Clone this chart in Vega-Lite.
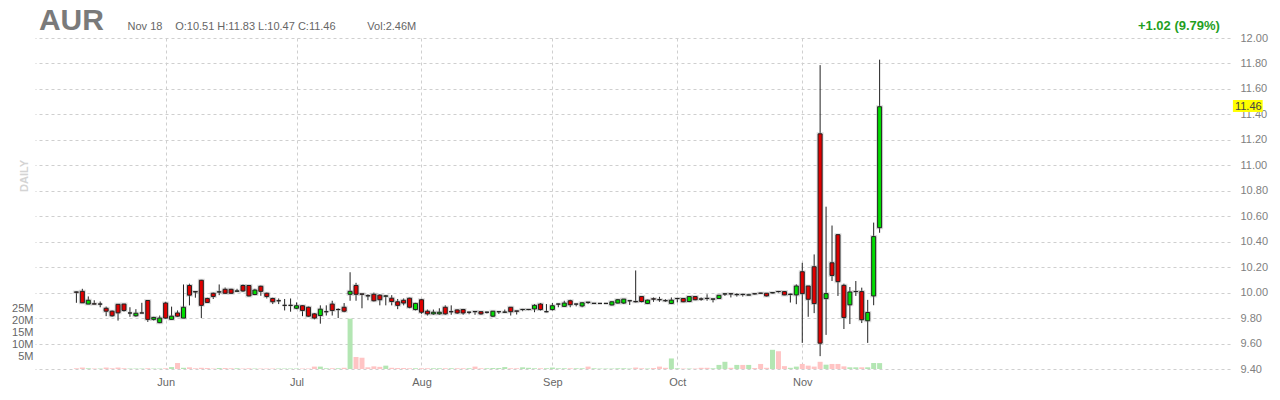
{
  "$schema": "https://vega.github.io/schema/vega-lite/v6.json",
  "autosize": {"type": "none"},
  "padding": {"left": 35, "top": 38, "right": 50, "bottom": 31},
  "width": 1195,
  "height": 331,
  "background": "white",
  "config": {
    "view": {"stroke": null},
    "font": "Liberation Sans",
    "axis": {"labelFont": "Liberation Sans", "labelFontSize": 11, "labelColor": "#808080", "domain": false, "ticks": false, "title": null}
  },
  "data": {"values": [
    {"i":0,"o":10.005,"h":10.008,"l":9.92,"c":10.003,"v":0.3},
    {"i":1,"o":10.01,"h":10.03,"l":9.92,"c":9.92,"v":0.6},
    {"i":2,"o":9.91,"h":9.97,"l":9.91,"c":9.94,"v":0.3},
    {"i":3,"o":9.912,"h":9.94,"l":9.91,"c":9.91,"v":0.2},
    {"i":4,"o":9.91,"h":9.93,"l":9.885,"c":9.91,"v":0.2},
    {"i":5,"o":9.877,"h":9.89,"l":9.815,"c":9.854,"v":0.6},
    {"i":6,"o":9.854,"h":9.86,"l":9.81,"c":9.818,"v":0.3},
    {"i":7,"o":9.908,"h":9.91,"l":9.78,"c":9.841,"v":0.6},
    {"i":8,"o":9.91,"h":9.912,"l":9.85,"c":9.86,"v":0.3},
    {"i":9,"o":9.84,"h":9.885,"l":9.81,"c":9.84,"v":0.2},
    {"i":10,"o":9.818,"h":9.87,"l":9.81,"c":9.838,"v":0.2},
    {"i":11,"o":9.84,"h":9.92,"l":9.84,"c":9.84,"v":0.2},
    {"i":12,"o":9.938,"h":9.94,"l":9.77,"c":9.79,"v":0.3},
    {"i":13,"o":9.79,"h":9.81,"l":9.78,"c":9.805,"v":0.2},
    {"i":14,"o":9.764,"h":9.82,"l":9.76,"c":9.8,"v":0.2},
    {"i":15,"o":9.918,"h":9.928,"l":9.795,"c":9.8,"v":0.3},
    {"i":16,"o":9.79,"h":9.89,"l":9.79,"c":9.815,"v":0.8},
    {"i":17,"o":9.84,"h":9.86,"l":9.81,"c":9.815,"v":2.5},
    {"i":18,"o":9.8,"h":10.064,"l":9.8,"c":9.885,"v":0.5},
    {"i":19,"o":10.056,"h":10.07,"l":9.9,"c":9.98,"v":0.7},
    {"i":20,"o":10.008,"h":10.01,"l":9.96,"c":10.005,"v":0.3},
    {"i":21,"o":10.097,"h":10.1,"l":9.8,"c":9.9,"v":0.5},
    {"i":22,"o":9.954,"h":9.96,"l":9.92,"c":9.923,"v":0.4},
    {"i":23,"o":9.995,"h":10.0,"l":9.95,"c":9.97,"v":0.2},
    {"i":24,"o":10.005,"h":10.064,"l":9.98,"c":10.006,"v":0.4},
    {"i":25,"o":10.026,"h":10.04,"l":9.99,"c":9.995,"v":0.4},
    {"i":26,"o":10.026,"h":10.03,"l":9.99,"c":9.995,"v":0.3},
    {"i":27,"o":10.011,"h":10.03,"l":10.005,"c":10.013,"v":0.3},
    {"i":28,"o":10.056,"h":10.064,"l":10.005,"c":10.013,"v":0.2},
    {"i":29,"o":10.056,"h":10.06,"l":9.97,"c":9.974,"v":0.3},
    {"i":30,"o":9.985,"h":10.03,"l":9.98,"c":10.02,"v":0.2},
    {"i":31,"o":10.05,"h":10.055,"l":9.975,"c":10.01,"v":0.2},
    {"i":32,"o":9.995,"h":10.0,"l":9.954,"c":9.97,"v":0.2},
    {"i":33,"o":9.954,"h":9.96,"l":9.91,"c":9.928,"v":0.2},
    {"i":34,"o":9.936,"h":9.954,"l":9.91,"c":9.936,"v":0.2},
    {"i":35,"o":9.9,"h":9.95,"l":9.86,"c":9.9,"v":0.2},
    {"i":36,"o":9.9,"h":9.954,"l":9.85,"c":9.9,"v":0.2},
    {"i":37,"o":9.877,"h":9.923,"l":9.87,"c":9.897,"v":0.2},
    {"i":38,"o":9.897,"h":9.9,"l":9.815,"c":9.86,"v":0.2},
    {"i":39,"o":9.885,"h":9.89,"l":9.81,"c":9.815,"v":0.2},
    {"i":40,"o":9.833,"h":9.84,"l":9.79,"c":9.8,"v":1.0},
    {"i":41,"o":9.82,"h":9.9,"l":9.756,"c":9.87,"v":1.0},
    {"i":42,"o":9.85,"h":9.9,"l":9.82,"c":9.85,"v":0.3},
    {"i":43,"o":9.91,"h":9.936,"l":9.82,"c":9.86,"v":0.3},
    {"i":44,"o":9.867,"h":9.877,"l":9.8,"c":9.867,"v":0.3},
    {"i":45,"o":9.885,"h":9.918,"l":9.846,"c":9.854,"v":0.5},
    {"i":46,"o":9.987,"h":10.16,"l":9.936,"c":10.01,"v":21},
    {"i":47,"o":10.056,"h":10.077,"l":9.936,"c":9.987,"v":5.0},
    {"i":48,"o":9.99,"h":9.99,"l":9.877,"c":9.987,"v":4.7},
    {"i":49,"o":9.976,"h":9.987,"l":9.94,"c":9.974,"v":0.7},
    {"i":50,"o":9.987,"h":10.0,"l":9.93,"c":9.936,"v":1.1},
    {"i":51,"o":9.98,"h":9.987,"l":9.9,"c":9.944,"v":0.9},
    {"i":52,"o":9.972,"h":9.98,"l":9.9,"c":9.974,"v":1.4},
    {"i":53,"o":9.956,"h":9.98,"l":9.9,"c":9.93,"v":0.5},
    {"i":54,"o":9.928,"h":9.95,"l":9.87,"c":9.9,"v":0.4},
    {"i":55,"o":9.94,"h":9.954,"l":9.9,"c":9.918,"v":0.4},
    {"i":56,"o":9.956,"h":9.96,"l":9.877,"c":9.885,"v":0.3},
    {"i":57,"o":9.867,"h":9.92,"l":9.86,"c":9.915,"v":0.3},
    {"i":58,"o":9.944,"h":9.95,"l":9.833,"c":9.846,"v":0.3},
    {"i":59,"o":9.854,"h":9.867,"l":9.82,"c":9.833,"v":0.3},
    {"i":60,"o":9.833,"h":9.867,"l":9.826,"c":9.846,"v":0.3},
    {"i":61,"o":9.833,"h":9.877,"l":9.826,"c":9.846,"v":0.3},
    {"i":62,"o":9.885,"h":9.9,"l":9.826,"c":9.833,"v":0.3},
    {"i":63,"o":9.85,"h":9.9,"l":9.826,"c":9.85,"v":0.3},
    {"i":64,"o":9.864,"h":9.867,"l":9.833,"c":9.84,"v":0.3},
    {"i":65,"o":9.867,"h":9.872,"l":9.826,"c":9.84,"v":0.3},
    {"i":66,"o":9.846,"h":9.85,"l":9.83,"c":9.846,"v":0.3},
    {"i":67,"o":9.852,"h":9.852,"l":9.826,"c":9.85,"v":1.0},
    {"i":68,"o":9.85,"h":9.852,"l":9.826,"c":9.833,"v":0.3},
    {"i":69,"o":9.846,"h":9.85,"l":9.836,"c":9.846,"v":0.3},
    {"i":70,"o":9.815,"h":9.856,"l":9.808,"c":9.854,"v":0.4},
    {"i":71,"o":9.85,"h":9.852,"l":9.833,"c":9.85,"v":0.4},
    {"i":72,"o":9.846,"h":9.867,"l":9.84,"c":9.847,"v":0.8},
    {"i":73,"o":9.885,"h":9.887,"l":9.82,"c":9.85,"v":0.3},
    {"i":74,"o":9.856,"h":9.856,"l":9.828,"c":9.854,"v":0.3},
    {"i":75,"o":9.867,"h":9.872,"l":9.854,"c":9.868,"v":0.7},
    {"i":76,"o":9.867,"h":9.87,"l":9.862,"c":9.868,"v":0.5},
    {"i":77,"o":9.872,"h":9.91,"l":9.846,"c":9.9,"v":0.3},
    {"i":78,"o":9.91,"h":9.918,"l":9.859,"c":9.867,"v":0.3},
    {"i":79,"o":9.85,"h":9.91,"l":9.846,"c":9.85,"v":0.3},
    {"i":80,"o":9.867,"h":9.918,"l":9.859,"c":9.897,"v":0.6},
    {"i":81,"o":9.91,"h":9.913,"l":9.885,"c":9.91,"v":0.3},
    {"i":82,"o":9.892,"h":9.936,"l":9.89,"c":9.918,"v":0.3},
    {"i":83,"o":9.936,"h":9.944,"l":9.885,"c":9.905,"v":0.3},
    {"i":84,"o":9.91,"h":9.912,"l":9.892,"c":9.91,"v":0.3},
    {"i":85,"o":9.895,"h":9.923,"l":9.885,"c":9.92,"v":0.3},
    {"i":86,"o":9.925,"h":9.926,"l":9.91,"c":9.923,"v":1.0},
    {"i":87,"o":9.915,"h":9.918,"l":9.912,"c":9.916,"v":0.3},
    {"i":88,"o":9.915,"h":9.918,"l":9.912,"c":9.915,"v":0.2},
    {"i":89,"o":9.915,"h":9.918,"l":9.912,"c":9.915,"v":0.2},
    {"i":90,"o":9.903,"h":9.93,"l":9.9,"c":9.928,"v":0.2},
    {"i":91,"o":9.918,"h":9.95,"l":9.915,"c":9.944,"v":0.3},
    {"i":92,"o":9.918,"h":9.95,"l":9.91,"c":9.949,"v":0.3},
    {"i":93,"o":9.936,"h":9.938,"l":9.903,"c":9.936,"v":0.2},
    {"i":94,"o":9.93,"h":10.174,"l":9.923,"c":9.928,"v":0.6},
    {"i":95,"o":9.969,"h":9.97,"l":9.923,"c":9.93,"v":0.3},
    {"i":96,"o":9.915,"h":9.945,"l":9.91,"c":9.941,"v":0.2},
    {"i":97,"o":9.951,"h":9.962,"l":9.928,"c":9.949,"v":0.4},
    {"i":98,"o":9.945,"h":9.967,"l":9.928,"c":9.944,"v":1.0},
    {"i":99,"o":9.937,"h":9.949,"l":9.928,"c":9.936,"v":0.5},
    {"i":100,"o":9.915,"h":9.962,"l":9.91,"c":9.941,"v":4.4},
    {"i":101,"o":9.953,"h":9.956,"l":9.923,"c":9.954,"v":0.3},
    {"i":102,"o":9.954,"h":9.956,"l":9.925,"c":9.928,"v":0.2},
    {"i":103,"o":9.93,"h":9.972,"l":9.925,"c":9.969,"v":0.2},
    {"i":104,"o":9.969,"h":9.972,"l":9.94,"c":9.944,"v":0.2},
    {"i":105,"o":9.95,"h":9.962,"l":9.936,"c":9.949,"v":0.5},
    {"i":106,"o":9.955,"h":9.987,"l":9.936,"c":9.954,"v":0.5},
    {"i":107,"o":9.949,"h":9.951,"l":9.923,"c":9.95,"v":0.3},
    {"i":108,"o":9.954,"h":9.982,"l":9.95,"c":9.979,"v":1.7},
    {"i":109,"o":9.989,"h":9.995,"l":9.974,"c":9.99,"v":3.0},
    {"i":110,"o":9.991,"h":9.992,"l":9.962,"c":9.99,"v":0.5},
    {"i":111,"o":9.984,"h":9.995,"l":9.969,"c":9.985,"v":1.7},
    {"i":112,"o":9.986,"h":9.99,"l":9.969,"c":9.985,"v":1.7},
    {"i":113,"o":9.981,"h":9.985,"l":9.98,"c":9.982,"v":1.7},
    {"i":114,"o":9.991,"h":9.993,"l":9.986,"c":9.99,"v":0.4},
    {"i":115,"o":9.996,"h":9.998,"l":9.993,"c":9.995,"v":2.1},
    {"i":116,"o":9.995,"h":9.997,"l":9.97,"c":9.974,"v":0.5},
    {"i":117,"o":9.998,"h":10.003,"l":9.995,"c":10.0,"v":8.0},
    {"i":118,"o":10.009,"h":10.013,"l":10.0,"c":10.008,"v":7.4},
    {"i":119,"o":10.008,"h":10.01,"l":9.98,"c":9.982,"v":1.2},
    {"i":120,"o":9.986,"h":9.992,"l":9.922,"c":9.987,"v":0.5},
    {"i":121,"o":9.982,"h":10.065,"l":9.909,"c":10.052,"v":1.0},
    {"i":122,"o":10.164,"h":10.234,"l":9.605,"c":9.992,"v":2.1},
    {"i":123,"o":10.052,"h":10.052,"l":9.81,"c":9.948,"v":1.4},
    {"i":124,"o":10.203,"h":10.3,"l":9.839,"c":9.914,"v":1.0},
    {"i":125,"o":11.247,"h":11.787,"l":9.501,"c":9.603,"v":3.0},
    {"i":126,"o":9.953,"h":10.675,"l":9.668,"c":9.992,"v":1.8},
    {"i":127,"o":10.234,"h":10.527,"l":10.091,"c":10.135,"v":2.1},
    {"i":128,"o":10.455,"h":10.46,"l":9.974,"c":10.086,"v":2.1},
    {"i":129,"o":10.057,"h":10.07,"l":9.714,"c":9.805,"v":1.1},
    {"i":130,"o":9.904,"h":10.044,"l":9.753,"c":10.005,"v":0.7},
    {"i":131,"o":10.008,"h":10.091,"l":9.974,"c":10.009,"v":0.7},
    {"i":132,"o":10.008,"h":10.039,"l":9.761,"c":9.787,"v":0.7},
    {"i":133,"o":9.779,"h":9.943,"l":9.605,"c":9.844,"v":0.7},
    {"i":134,"o":9.974,"h":10.55,"l":9.901,"c":10.44,"v":2.5},
    {"i":135,"o":10.51,"h":11.83,"l":10.47,"c":11.46,"v":2.46}
  ]},
  "encoding": {
    "x": {
      "field": "i", "type": "quantitative",
      "scale": {"domain": [-6.1167, 193.05], "nice": false, "zero": false},
      "axis": {
        "values": [15, 37, 58, 80, 101, 122],
        "tickCount": 20,
        "labelExpr": "datum.value == 15 ? 'Jun' : datum.value == 37 ? 'Jul' : datum.value == 58 ? 'Aug' : datum.value == 80 ? 'Sep' : datum.value == 101 ? 'Oct' : 'Nov'",
        "grid": true, "gridDash": [3, 3], "gridColor": "#cfcfcf",
        "labelPadding": 7, "labelColor": "#666666"
      }
    }
  },
  "layer": [
    {
      "mark": {"type": "bar", "size": 5},
      "encoding": {
        "y": {
          "field": "v", "type": "quantitative",
          "scale": {"domain": [0, 137.9], "nice": false},
          "axis": {"orient": "left", "values": [5, 10, 15, 20, 25], "tickCount": 20, "labelExpr": "datum.value + 'M'", "grid": false, "labelPadding": 2, "labelColor": "#666666"}
        },
        "color": {"condition": {"test": "datum.c >= datum.o", "value": "#b3e6b3"}, "value": "#ffc4c4"}
      }
    },
    {
      "layer": [
        {
          "mark": {"type": "rule", "color": "#222222", "strokeWidth": 1},
          "encoding": {
            "y": {
              "field": "l", "type": "quantitative",
              "scale": {"domain": [9.4, 12.0], "nice": false, "zero": false},
              "axis": {"orient": "right", "values": [9.4, 9.6, 9.8, 10.0, 10.2, 10.4, 10.6, 10.8, 11.0, 11.2, 11.4, 11.6, 11.8, 12.0], "tickCount": 30, "format": ".2f", "grid": true, "gridDash": [3, 3], "gridColor": "#cfcfcf", "labelPadding": 10}
            },
            "y2": {"field": "h"}
          }
        },
        {
          "mark": {"type": "bar", "size": 4, "fill": null, "stroke": "#9a9a9a", "strokeWidth": 3, "strokeOpacity": 0.35},
          "encoding": {
            "y": {"field": "o", "type": "quantitative"},
            "y2": {"field": "c"}
          }
        },
        {
          "mark": {"type": "bar", "size": 4, "stroke": "#222222", "strokeWidth": 1},
          "encoding": {
            "y": {"field": "o", "type": "quantitative"},
            "y2": {"field": "c"},
            "fill": {"condition": {"test": "datum.c >= datum.o", "value": "#00dd00"}, "value": "#e00000"}
          }
        },
        {
          "transform": [{"filter": "datum.i == 135"}],
          "mark": {"type": "rect", "fill": "#ffff00"},
          "encoding": {
            "x": {"datum": 194.38}, "x2": {"datum": 199.38},
            "y": {"datum": 11.513}, "y2": {"datum": 11.419}
          }
        },
        {
          "transform": [{"filter": "datum.i == 135"}],
          "mark": {"type": "text", "align": "left", "baseline": "middle", "fontSize": 11, "color": "#444444"},
          "encoding": {"x": {"datum": 194.72}, "y": {"datum": 11.46}, "text": {"value": "11.46"}}
        },
        {
          "transform": [{"filter": "datum.i == 135"}],
          "mark": {"type": "text", "align": "left", "baseline": "alphabetic", "fontSize": 30, "fontWeight": "bold", "color": "#7a7a7a"},
          "encoding": {"x": {"datum": -6.3}, "y": {"datum": 12.063}, "text": {"value": "AUR"}}
        },
        {
          "transform": [{"filter": "datum.i == 135"}],
          "mark": {"type": "text", "align": "left", "baseline": "alphabetic", "fontSize": 11, "color": "#666666"},
          "encoding": {"x": {"datum": 8.6}, "y": {"datum": 12.063}, "text": {"value": "Nov 18"}}
        },
        {
          "transform": [{"filter": "datum.i == 135"}],
          "mark": {"type": "text", "align": "left", "baseline": "alphabetic", "fontSize": 11, "color": "#666666"},
          "encoding": {"x": {"datum": 16.6}, "y": {"datum": 12.063}, "text": {"value": "O:10.51  H:11.83  L:10.47  C:11.46"}}
        },
        {
          "transform": [{"filter": "datum.i == 135"}],
          "mark": {"type": "text", "align": "left", "baseline": "alphabetic", "fontSize": 11, "color": "#666666"},
          "encoding": {"x": {"datum": 48.9}, "y": {"datum": 12.063}, "text": {"value": "Vol:2.46M"}}
        },
        {
          "transform": [{"filter": "datum.i == 135"}],
          "mark": {"type": "text", "align": "right", "baseline": "alphabetic", "fontSize": 13, "fontWeight": "bold", "color": "#1f9f1f"},
          "encoding": {"x": {"datum": 192.2}, "y": {"datum": 12.063}, "text": {"value": "+1.02 (9.79%)"}}
        },
        {
          "transform": [{"filter": "datum.i == 135"}],
          "mark": {"type": "text", "align": "center", "baseline": "middle", "fontSize": 11, "fontWeight": "bold", "color": "#d4d4d4", "angle": 270},
          "encoding": {"x": {"datum": -8.6}, "y": {"datum": 10.916}, "text": {"value": "DAILY"}}
        }
      ]
    }
  ],
  "resolve": {"scale": {"y": "independent"}}
}
